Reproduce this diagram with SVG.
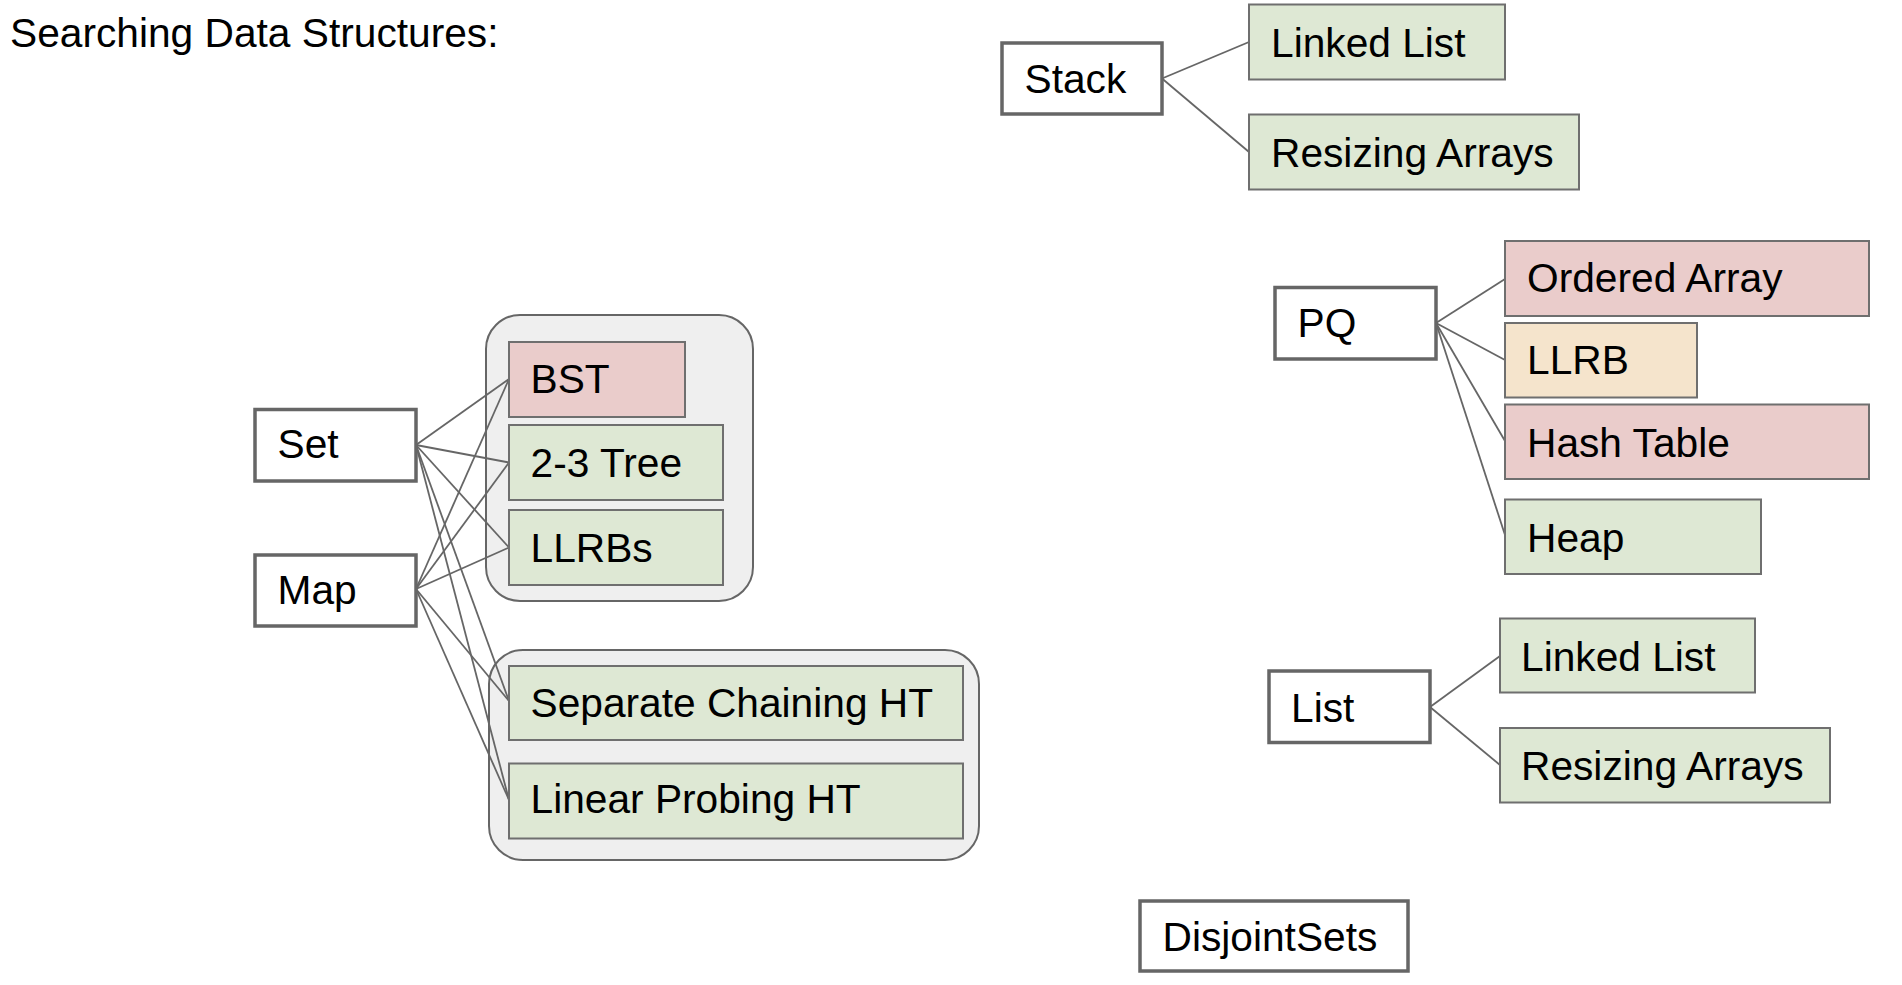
<svg xmlns="http://www.w3.org/2000/svg" width="1902" height="985" viewBox="0 0 1902 985">
<style>
text{font-family:"Liberation Sans",Arial,sans-serif;font-size:40.7px;fill:#000}
.p{fill:#fff;stroke:#666;stroke-width:3.5}
.c{stroke:#6f6f6f;stroke-width:2}
.red{fill:#eacccb}
.org{fill:#f5e4cc}
.grn{fill:#dee8d4}
.grp{fill:#efefef;stroke:#666;stroke-width:2}
#connectors line{stroke:#666;stroke-width:1.8}
</style>
<rect width="1902" height="985" fill="#fff"/>
<text x="10" y="46.5">Searching Data Structures:</text>

<g id="group-trees"><rect class="grp" x="486" y="315" width="267" height="286" rx="34"/></g>
<g id="group-hash"><rect class="grp" x="489" y="650" width="490" height="210" rx="34"/></g>

<g id="connectors">
<line x1="1162" y1="78.5" x2="1249" y2="42"/>
<line x1="1162" y1="78.5" x2="1249" y2="152"/>
<line x1="1436" y1="323" x2="1505" y2="279"/>
<line x1="1436" y1="323" x2="1505" y2="360"/>
<line x1="1436" y1="323" x2="1505" y2="441"/>
<line x1="1436" y1="323" x2="1505" y2="535"/>
<line x1="1430" y1="707" x2="1500" y2="656"/>
<line x1="1430" y1="707" x2="1500" y2="765"/>
<line x1="416" y1="445" x2="509" y2="379"/>
<line x1="416" y1="445" x2="509" y2="462.5"/>
<line x1="416" y1="445" x2="509" y2="547.5"/>
<line x1="416" y1="445" x2="509" y2="701"/>
<line x1="416" y1="445" x2="509" y2="800"/>
<line x1="416" y1="589" x2="509" y2="379"/>
<line x1="416" y1="589" x2="509" y2="462.5"/>
<line x1="416" y1="589" x2="509" y2="547.5"/>
<line x1="416" y1="589" x2="509" y2="701"/>
<line x1="416" y1="589" x2="509" y2="800"/>
</g>

<g id="stack"><rect class="p" x="1002" y="43" width="160" height="71"/><text x="1024.5" y="93">Stack</text></g>
<g id="stack-linked-list"><rect class="c grn" x="1249" y="4.5" width="256" height="75"/><text x="1271" y="56.5">Linked List</text></g>
<g id="stack-resizing-arrays"><rect class="c grn" x="1249" y="114.5" width="330" height="75"/><text x="1271" y="166.5">Resizing Arrays</text></g>

<g id="pq"><rect class="p" x="1275" y="287.5" width="161" height="71.5"/><text x="1297.5" y="337">PQ</text></g>
<g id="pq-ordered-array"><rect class="c red" x="1505" y="241" width="364" height="75"/><text x="1527" y="291.5">Ordered Array</text></g>
<g id="pq-llrb"><rect class="c org" x="1505" y="323" width="192" height="74.5"/><text x="1527" y="374">LLRB</text></g>
<g id="pq-hash-table"><rect class="c red" x="1505" y="404.5" width="364" height="74.5"/><text x="1527" y="456.5">Hash Table</text></g>
<g id="pq-heap"><rect class="c grn" x="1505" y="499.5" width="256" height="74.5"/><text x="1527" y="551.5">Heap</text></g>

<g id="list"><rect class="p" x="1269" y="671" width="161" height="71.5"/><text x="1291" y="721.5">List</text></g>
<g id="list-linked-list"><rect class="c grn" x="1500" y="618.5" width="255" height="74"/><text x="1521" y="670.5">Linked List</text></g>
<g id="list-resizing-arrays"><rect class="c grn" x="1500" y="728" width="330" height="74.5"/><text x="1521" y="780">Resizing Arrays</text></g>

<g id="disjoint-sets"><rect class="p" x="1140" y="901" width="268" height="70"/><text x="1162.5" y="950.5">DisjointSets</text></g>

<g id="set"><rect class="p" x="255" y="409.5" width="161" height="71.5"/><text x="277.5" y="458">Set</text></g>
<g id="map"><rect class="p" x="255" y="555" width="161" height="71"/><text x="277.5" y="604">Map</text></g>

<g id="bst"><rect class="c red" x="509" y="342" width="176" height="75"/><text x="530.5" y="393">BST</text></g>
<g id="tree-2-3"><rect class="c grn" x="509" y="425" width="214" height="75"/><text x="530.5" y="476.5">2-3 Tree</text></g>
<g id="llrbs"><rect class="c grn" x="509" y="510" width="214" height="75"/><text x="530.5" y="561.5">LLRBs</text></g>
<g id="separate-chaining-ht"><rect class="c grn" x="509" y="666" width="454" height="74"/><text x="530.5" y="716.5">Separate Chaining HT</text></g>
<g id="linear-probing-ht"><rect class="c grn" x="509" y="763.5" width="454" height="75"/><text x="530.5" y="813">Linear Probing HT</text></g>
</svg>
